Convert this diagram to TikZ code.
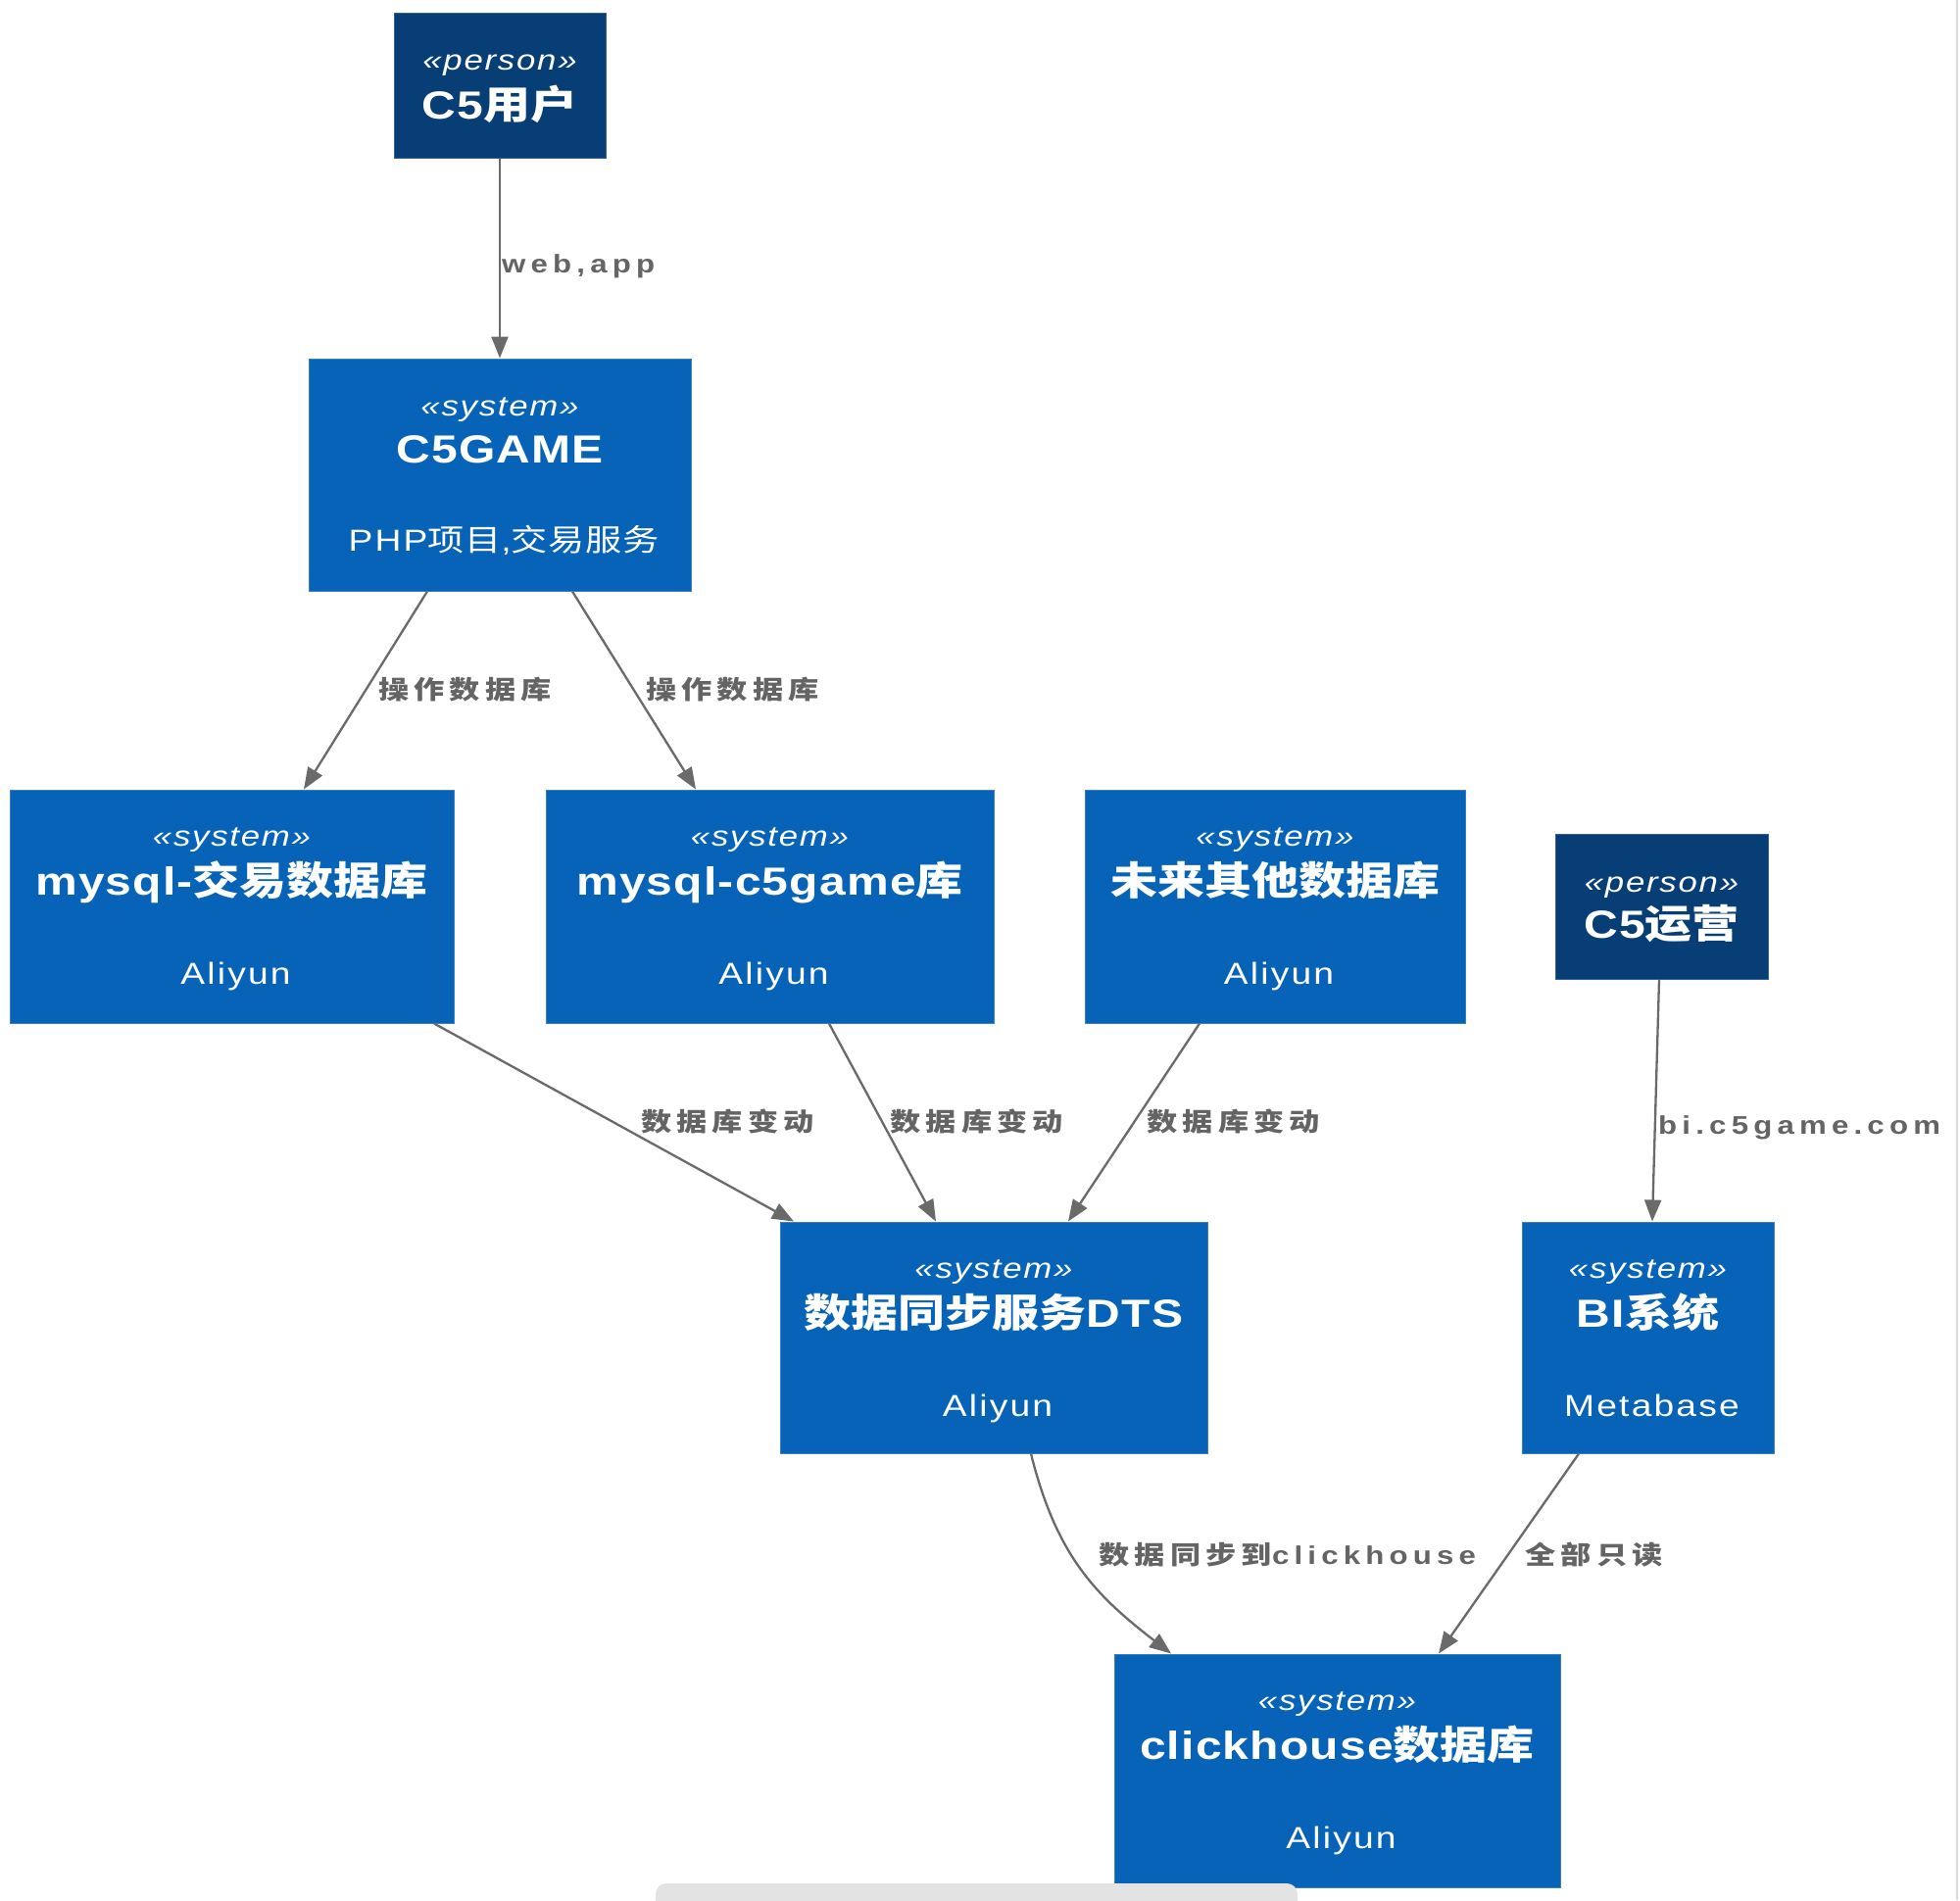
\documentclass[tikz,border=0pt]{standalone}
\usepackage{fontspec}
\usepackage{graphicx}
\setmainfont{Liberation Sans}[FakeStretch=1.2]
\newfontfamily\cjk{Noto Sans CJK SC}[FakeStretch=1.2]
\newfontfamily\ttlfont{Liberation Sans}[FakeStretch=1.2,LetterSpace=3]
\newfontfamily\ttlcjk{Noto Sans CJK SC}[FakeStretch=1.2]
\newfontfamily\stfont{Liberation Sans}[FakeStretch=1.2,LetterSpace=6]
\newfontfamily\dsfont{Liberation Sans}[FakeStretch=1.2,LetterSpace=7]
\newfontfamily\dscjk{Noto Sans CJK SC}[FakeStretch=1.2,LetterSpace=2]
\newfontfamily\lblfont{Liberation Sans}[FakeStretch=1.2,LetterSpace=20]
\newfontfamily\lblcjk{Noto Sans CJK SC}[FakeStretch=1.2,LetterSpace=20]
\let\curcjk\cjk
\newcommand{\zh}[1]{{\curcjk #1}}
\usetikzlibrary{arrows.meta,calc}
\definecolor{personblue}{RGB}{8,62,118}
\definecolor{sysblue}{RGB}{6,99,184}
\definecolor{sysedge}{RGB}{60,125,195}
\definecolor{personedge}{RGB}{50,95,145}
\definecolor{lblgrey}{RGB}{100,100,100}
\definecolor{linegrey}{RGB}{106,106,106}
\definecolor{scrollgrey}{RGB}{227,227,227}
\definecolor{edgegrey}{RGB}{218,218,218}
\tikzset{
  personbox/.style={fill=personblue, draw=personedge, line width=1pt, inner sep=0pt},
  sysbox/.style={fill=sysblue, draw=sysedge, line width=1pt, inner sep=0pt},
  stereo/.style={anchor=base, text=white, inner sep=0pt, font=\stfont\itshape\fontsize{29}{31}\selectfont},
  titletext/.style={anchor=base, text=white, inner sep=0pt, font=\let\curcjk\ttlcjk\ttlfont\bfseries\fontsize{40}{44}\selectfont},
  desctext/.style={anchor=base, text=white, inner sep=0pt, font=\let\curcjk\dscjk\dsfont\fontsize{31}{34}\selectfont},
  lbl/.style={text=lblgrey, inner sep=0pt, font=\let\curcjk\lblcjk\lblfont\bfseries\fontsize{26}{28}\selectfont},
  arr/.style={draw=linegrey, line width=2.3pt, -{Triangle[length=22pt,width=17pt]}}
}
\begin{document}
\begin{tikzpicture}[x=1pt,y=-1pt]
\useasboundingbox (0,0) rectangle (2000,1939);
\fill[white] (0,0) rectangle (2000,1939);

% boxes
\node[personbox, minimum width=216pt, minimum height=148pt] (c5user) at (510,87) {};
\node[sysbox, minimum width=390pt, minimum height=237pt] (c5game) at (510,484.5) {};
\node[sysbox, minimum width=453pt, minimum height=238pt] (mysqltx) at (236.5,925) {};
\node[sysbox, minimum width=457pt, minimum height=238pt] (mysqlc5) at (785.5,925) {};
\node[sysbox, minimum width=388pt, minimum height=238pt] (future) at (1301,925) {};
\node[personbox, minimum width=217pt, minimum height=148pt] (c5ops) at (1695.5,925) {};
\node[sysbox, minimum width=436pt, minimum height=236pt] (dts) at (1014,1365) {};
\node[sysbox, minimum width=257pt, minimum height=236pt] (bi) at (1681.5,1365) {};
\node[sysbox, minimum width=455pt, minimum height=238pt] (ch) at (1364.5,1807) {};

% texts
\node[stereo] (c5user-st) at ([yshift=-59pt]c5user.north) {«person»};
\node[titletext] (c5user-t) at ([yshift=-109pt]c5user.north) {C5\zh{用户}};

\node[stereo] (c5game-st) at ([yshift=-59pt]c5game.north) {«system»};
\node[titletext] (c5game-t) at ([yshift=-107pt]c5game.north) {C5GAME};
\node[desctext] (c5game-d) at ([yshift=-197pt,xshift=4pt]c5game.north) {PHP\zh{项目},\zh{交易服务}};

\node[stereo] (mysqltx-st) at ([yshift=-58pt]mysqltx.north) {«system»};
\node[titletext] (mysqltx-t) at ([yshift=-108pt]mysqltx.north) {mysql-\zh{交易数据库}};
\node[desctext] (mysqltx-d) at ([yshift=-199pt,xshift=4pt]mysqltx.north) {Aliyun};

\node[stereo] (mysqlc5-st) at ([yshift=-58pt]mysqlc5.north) {«system»};
\node[titletext] (mysqlc5-t) at ([yshift=-108pt]mysqlc5.north) {mysql-c5game\zh{库}};
\node[desctext] (mysqlc5-d) at ([yshift=-199pt,xshift=4pt]mysqlc5.north) {Aliyun};

\node[stereo] (future-st) at ([yshift=-58pt]future.north) {«system»};
\node[titletext] (future-t) at ([yshift=-108pt]future.north) {\zh{未来其他数据库}};
\node[desctext] (future-d) at ([yshift=-199pt,xshift=4pt]future.north) {Aliyun};

\node[stereo] (c5ops-st) at ([yshift=-60pt]c5ops.north) {«person»};
\node[titletext] (c5ops-t) at ([yshift=-107pt]c5ops.north) {C5\zh{运营}};

\node[stereo] (dts-st) at ([yshift=-58pt]dts.north) {«system»};
\node[titletext] (dts-t) at ([yshift=-108pt]dts.north) {\zh{数据同步服务}DTS};
\node[desctext] (dts-d) at ([yshift=-199pt,xshift=4pt]dts.north) {Aliyun};

\node[stereo] (bi-st) at ([yshift=-58pt]bi.north) {«system»};
\node[titletext] (bi-t) at ([yshift=-108pt]bi.north) {BI\zh{系统}};
\node[desctext] (bi-d) at ([yshift=-199pt,xshift=4pt]bi.north) {Metabase};

\node[stereo] (ch-st) at ([yshift=-58pt]ch.north) {«system»};
\node[titletext] (ch-t) at ([yshift=-108pt]ch.north) {clickhouse\zh{数据库}};
\node[desctext] (ch-d) at ([yshift=-199pt,xshift=4pt]ch.north) {Aliyun};

% connectors
\draw[arr] (c5user.south) -- (c5game.north);
\draw[arr] ([xshift=-74pt]c5game.south) -- ([xshift=73.5pt]mysqltx.north);
\draw[arr] ([xshift=74pt]c5game.south) -- ([xshift=-75.5pt]mysqlc5.north);
\draw[arr] ([xshift=206.5pt]mysqltx.south) -- ([xshift=-204pt]dts.north);
\draw[arr] ([xshift=60.5pt]mysqlc5.south) -- ([xshift=-59pt]dts.north);
\draw[arr] ([xshift=-77pt]future.south) -- ([xshift=76pt]dts.north);
\draw[arr] ([xshift=-2.5pt]c5ops.south) -- ([xshift=4.5pt]bi.north);
\draw[arr] ([xshift=38pt]dts.south) .. controls (1078,1588) and (1118,1628) .. ([xshift=-169.5pt]ch.north);
\draw[arr] ([xshift=-70.5pt]bi.south) -- ([xshift=103.5pt]ch.north);

% labels
\node[lbl, anchor=base west] (l-web) at (512,278) {web,app};
\node[lbl, anchor=west] (l-op1) at (386,704) {\zh{操作数据库}};
\node[lbl, anchor=west] (l-op2) at (659,704) {\zh{操作数据库}};
\node[lbl, anchor=west] (l-ch1) at (654,1145) {\zh{数据库变动}};
\node[lbl, anchor=west] (l-ch2) at (908,1145) {\zh{数据库变动}};
\node[lbl, anchor=west] (l-ch3) at (1170,1145) {\zh{数据库变动}};
\node[lbl, anchor=base west] (l-bi) at (1692,1157) {bi.c5game.com};
\node[lbl, anchor=west] (l-sync) at (1121,1587) {\zh{数据同步到}clickhouse};
\node[lbl, anchor=west] (l-ro) at (1556,1587) {\zh{全部只读}};

% window artefacts
\fill[edgegrey] (1995.5,0) rectangle (1998,1939);
\fill[scrollgrey, rounded corners=11pt] (669,1922) rectangle (1324,1960);
\end{tikzpicture}
\end{document}
